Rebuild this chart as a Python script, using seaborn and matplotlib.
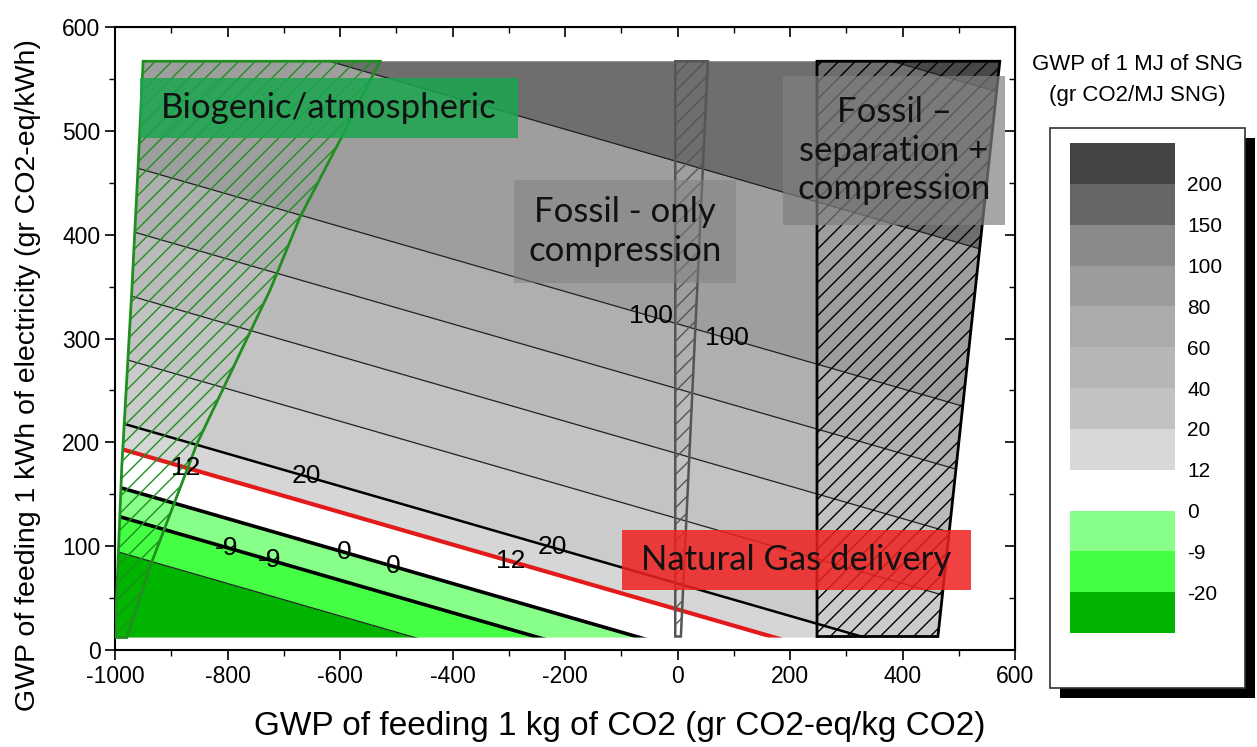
import numpy as np
import matplotlib
matplotlib.use("Agg")
import matplotlib.pyplot as plt
import seaborn as sns
from matplotlib.patches import Polygon, Rectangle
from matplotlib.colors import ListedColormap, BoundaryNorm
from matplotlib.cm import ScalarMappable
from matplotlib.ticker import MultipleLocator

# GWP surface (gr CO2/MJ SNG) read at the corners of the computed grid
co2_gwp = [-1000, 600]            # GWP of feeding 1 kg CO2
elec_gwp = [10, 570]              # GWP of 1 kWh electricity
sng_gwp = [[-47.3, 32.7],
           [131.9, 211.9]]

levels = [-50, -20, -9, 0, 12, 20, 40, 60, 80, 100, 150, 200, 250]
plot_colors = ['#00b400', '#44ff44', '#88ff88', '#ffffff', '#d6d6d6', '#cbcbcb',
               '#c3c3c3', '#bababa', '#afafaf', '#9e9e9e', '#6e6e6e', '#484848']
legend_colors = ['#00b400', '#44ff44', '#88ff88', '#ffffff', '#d8d8d8', '#c2c2c2',
                 '#b6b6b6', '#ababab', '#9c9c9c', '#8a8a8a', '#666666', '#444444']
cbar_ticks = [-20, -9, 0, 12, 20, 40, 60, 80, 100, 150, 200]

thin_levels = [-20, 40, 60, 80, 150, 200]
level_100 = [100]
level_20 = [20]
zero_levels = [-9, 0]
gas_level = [12]

# contour label positions
label_100 = [(-49, 320), (88, 300)]
label_20 = [(-662, 164), (-225, 96)]
label_zero = [(-804, 94), (-728, 81), (-593, 92), (-508, 77)]
label_12 = [(-876, 173), (-298, 82)]

# outlines of the computed domain and of the three feed regions
domain_x = [-1000, 463, 573, -950, -959, -970, -988]
domain_y = [12, 12, 567, 567, 465, 347, 176]
bio_x = [-950, -529, -600, -671, -724, -854, -938, -979, -1000, -988, -970, -959]
bio_y = [567, 567, 491, 417, 347, 199, 80, 12, 12, 176, 347, 465]
comp_x = [-4, 54, 6, -4]
comp_y = [567, 567, 13, 13]
sep_x = [248, 573, 463, 248]
sep_y = [567, 567, 13, 13]

sns.set_style("ticks")
plt.rcParams['font.family'] = ['Liberation Sans', 'DejaVu Sans']
plt.rcParams['hatch.linewidth'] = 1.0
plt.rcParams['axes.unicode_minus'] = False
for key in ('text.color', 'axes.labelcolor', 'xtick.color', 'ytick.color'):
    plt.rcParams[key] = 'black'

fig = plt.figure(figsize=(12.57, 7.47), dpi=100)
ax = fig.add_axes([115 / 1257, 1 - 650 / 747, 900 / 1257, 623 / 747])

X, Y = np.meshgrid(co2_gwp, elec_gwp)
Z = np.array(sng_gwp)

domain = Polygon(np.column_stack([domain_x, domain_y]), closed=True,
                 facecolor='none', edgecolor='none')
ax.add_patch(domain)

cf = ax.contourf(X, Y, Z, levels=levels, colors=plot_colors, zorder=1)
cf.set_clip_path(domain)

line_kw = dict(linestyles='solid', zorder=2)
cs_thin = ax.contour(X, Y, Z, levels=thin_levels, colors='#222222', linewidths=0.9, **line_kw)
cs_100 = ax.contour(X, Y, Z, levels=level_100, colors='#222222', linewidths=0.9, **line_kw)
cs_20 = ax.contour(X, Y, Z, levels=level_20, colors='black', linewidths=1.8, **line_kw)
cs_zero = ax.contour(X, Y, Z, levels=zero_levels, colors='black', linewidths=2.6, **line_kw)
cs_gas = ax.contour(X, Y, Z, levels=gas_level, colors='#e31a1a', linewidths=3,
                    linestyles='solid', zorder=2.5)
for cs in (cs_thin, cs_100, cs_20, cs_zero, cs_gas):
    cs.set_clip_path(domain)

labels = []
for cs, pos in ((cs_100, label_100), (cs_20, label_20),
                (cs_zero, label_zero), (cs_gas, label_12)):
    labels += ax.clabel(cs, manual=pos, inline=False, fontsize=19,
                        fmt='%d', colors='black')
for t in labels:
    t.set_rotation(0)
    t.set_zorder(6)

# hatched regions
ax.add_patch(Polygon(np.column_stack([bio_x, bio_y]), closed=True, facecolor='none',
                     edgecolor='#1f8f1f', hatch='//', linewidth=2, zorder=3))
ax.add_patch(Polygon(np.column_stack([comp_x, comp_y]), closed=True, facecolor='none',
                     edgecolor='#555555', hatch='//', linewidth=1.8, zorder=3))
ax.add_patch(Polygon(np.column_stack([sep_x, sep_y]), closed=True, facecolor='none',
                     edgecolor='black', hatch='//', linewidth=2, zorder=3))

# text boxes
boxes = [
    ("Biogenic/atmospheric", (-956, 493, -284, 551), '#1aa650', 0.85),
    ("Fossil - only\ncompression", (-291, 353, 104, 453), '#808080', 0.5),
    ("Fossil \u2013\nseparation +\ncompression", (188, 409, 582, 553), '#808080', 0.7),
    ("Natural Gas delivery", (-99, 58, 522, 116), '#f02020', 0.85),
]
for text, (x0, y0, x1, y1), color, alpha in boxes:
    ax.add_patch(Rectangle((x0, y0), x1 - x0, y1 - y0, facecolor=color,
                           edgecolor='none', alpha=alpha, zorder=4, clip_on=False))
    ax.text((x0 + x1) / 2, (y0 + y1) / 2, text, ha='center', va='center',
            fontsize=25, family=['Lato', 'DejaVu Sans'], linespacing=1.25,
            color='#111111', zorder=5)

ax.set_xlim(-1000, 600)
ax.set_ylim(0, 600)
ax.xaxis.set_major_locator(MultipleLocator(200))
ax.xaxis.set_minor_locator(MultipleLocator(100))
ax.yaxis.set_major_locator(MultipleLocator(100))
ax.yaxis.set_minor_locator(MultipleLocator(50))
ax.tick_params(which='major', direction='out', length=7, width=1.2, labelsize=16.5)
ax.tick_params(which='minor', direction='out', length=4, width=1.0)
for side in ax.spines.values():
    side.set_linewidth(1.5)
    side.set_color('black')

top = ax.secondary_xaxis('top')
right = ax.secondary_yaxis('right')
top.xaxis.set_major_locator(MultipleLocator(200))
top.xaxis.set_minor_locator(MultipleLocator(100))
right.yaxis.set_major_locator(MultipleLocator(100))
right.yaxis.set_minor_locator(MultipleLocator(50))
for sec in (top, right):
    sec.tick_params(which='major', direction='in', length=7, width=1.2,
                    labeltop=False, labelright=False)
    sec.tick_params(which='minor', direction='in', length=4, width=1.0)

ax.set_xlabel("GWP of feeding 1 kg of CO2 (gr CO2-eq/kg CO2)", fontsize=24)
ax.set_ylabel("GWP of feeding 1 kWh of electricity (gr CO2-eq/kWh)", fontsize=20.5)
ax.xaxis.set_label_coords(0.561, -0.098)
ax.yaxis.set_label_coords(-0.082, 0.441)

# colour legend in a framed box with a drop shadow
fig.add_artist(Rectangle((1060 / 1257, 1 - 698 / 747), 195 / 1257, 560 / 747,
                         transform=fig.transFigure, facecolor='black',
                         edgecolor='none', zorder=-2))
fig.add_artist(Rectangle((1050 / 1257, 1 - 688 / 747), 195 / 1257, 560 / 747,
                         transform=fig.transFigure, facecolor='white',
                         edgecolor='#333333', linewidth=1.2, zorder=-1))
cax = fig.add_axes([1070 / 1257, 1 - 633 / 747, 105 / 1257, 490 / 747])
legend_map = ScalarMappable(norm=BoundaryNorm(levels, len(legend_colors)),
                            cmap=ListedColormap(legend_colors))
cbar = fig.colorbar(legend_map, cax=cax, boundaries=levels, ticks=cbar_ticks,
                    spacing='uniform')
cbar.set_ticklabels([str(v) for v in cbar_ticks])
cbar.outline.set_visible(False)
cax.minorticks_off()
cax.tick_params(length=0, labelsize=15, pad=9)
fig.text(1137 / 1257, 1 - 65 / 747, "GWP of 1 MJ of SNG", ha='center', va='center',
         fontsize=16)
fig.text(1137 / 1257, 1 - 95 / 747, "(gr CO2/MJ SNG)", ha='center', va='center',
         fontsize=16)

fig.savefig("out.png", dpi=100)
